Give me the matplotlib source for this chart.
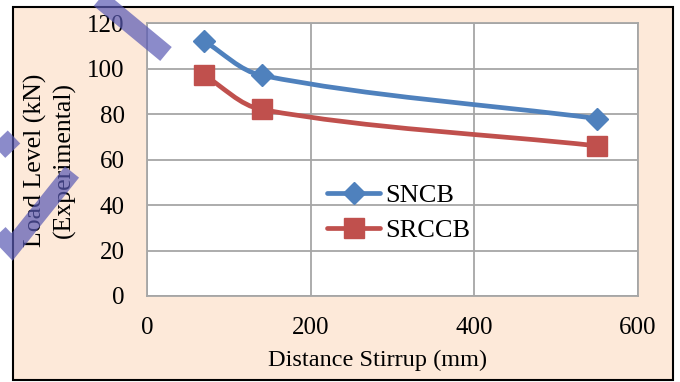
import numpy as np
import matplotlib
matplotlib.use("Agg")
import matplotlib.pyplot as plt
from matplotlib.path import Path
from matplotlib.patches import PathPatch, Rectangle
from matplotlib.lines import Line2D

plt.rcParams['font.family'] = ['Liberation Serif', 'DejaVu Serif']

# data
stirrup_mm = [70, 140, 550]
sncb_kn = [112, 97, 78]
srccb_kn = [97, 82, 66]
series_names = ['SNCB', 'SRCCB']
x_ticks = [0, 200, 400, 600]
y_ticks = [0, 20, 40, 60, 80, 100, 120]

blue = '#4F81BD'
red = '#C0504D'
grid_col = '#A6A6A6'
peach = '#FDE9D9'

W, H = 680, 382
fig = plt.figure(figsize=(W / 100, H / 100), dpi=100)
fig.patch.set_facecolor('white')

# outer chart frame
fig.patches.append(Rectangle((13 / W, 1 - 380 / H), 660 / W, 373 / H,
                             transform=fig.transFigure, facecolor=peach,
                             edgecolor='black', linewidth=1.5, zorder=-5))

ax = fig.add_axes([147 / W, 1 - 296 / H, 491 / W, 273 / H])
ax.set_zorder(2)
ax.set_facecolor('white')
ax.set_xlim(0, 600)
ax.set_ylim(0, 120)
ax.set_xticks(x_ticks)
ax.set_yticks(y_ticks)
ax.tick_params(length=0, labelsize=18)
ax.tick_params(axis='y', pad=16)
ax.tick_params(axis='x', pad=15)
ax.grid(True, color=grid_col, linewidth=1.3)
ax.set_axisbelow(True)
for s in ax.spines.values():
    s.set_color(grid_col)
    s.set_linewidth(1.3)

# pixel scale so the smoothing looks right on screen
sx = 491 / 600
sy = 273 / 120


def smooth_path(xs, ys):
    pts = np.column_stack([np.asarray(xs, float) * sx, np.asarray(ys, float) * sy])
    n = len(pts)
    verts = [pts[0]]
    codes = [Path.MOVETO]
    for i in range(n - 1):
        p0 = pts[max(i - 1, 0)]
        p1 = pts[i]
        p2 = pts[i + 1]
        p3 = pts[min(i + 2, n - 1)]
        seg = np.linalg.norm(p2 - p1) / 3
        t1 = (p2 - p0) / np.linalg.norm(p2 - p0)
        t2 = (p3 - p1) / np.linalg.norm(p3 - p1)
        verts += [p1 + t1 * seg, p2 - t2 * seg, p2]
        codes += [Path.CURVE4] * 3
    verts = np.array(verts)
    verts[:, 0] /= sx
    verts[:, 1] /= sy
    return Path(verts, codes)


lw = 3.4
for ys, col, mk, ms in [(sncb_kn, blue, 'D', 11), (srccb_kn, red, 's', 14)]:
    ax.add_patch(PathPatch(smooth_path(stirrup_mm, ys), fill=False,
                           edgecolor=col, linewidth=lw, capstyle='round', zorder=3))
    ax.plot(stirrup_mm, ys, ls='none', marker=mk, ms=ms, color=col, zorder=4, clip_on=False)

handles = [Line2D([], [], color=blue, lw=lw, marker='D', ms=11, solid_capstyle='round'),
           Line2D([], [], color=red, lw=lw, marker='s', ms=14, solid_capstyle='round')]
ax.legend(handles, series_names, loc='center left',
          bbox_to_anchor=(314 / W, 1 - 213 / H), bbox_transform=fig.transFigure,
          frameon=False, fontsize=19,
          handlelength=2.0, handletextpad=0.2, labelspacing=0.45, borderpad=0)

fig.text(378 / W, 1 - 360 / H, 'Distance Stirrup (mm)', ha='center', va='center', fontsize=17.5)
fig.text(50 / W, 1 - 160 / H, 'Load Level (kN)\n(Experimental)', ha='center', va='center',
         rotation=90, fontsize=18.5, multialignment='center', linespacing=1.3)

# translucent markup strokes over the figure
for xs_px, ys_px in [([91, 166], [-8, 54]),
                     ([-10, 14], [160, 137]),
                     ([-6, 12, 72], [228, 247, 172])]:
    xf = [x / W for x in xs_px]
    yf = [1 - y / H for y in ys_px]
    fig.add_artist(Line2D(xf, yf, transform=fig.transFigure, color='#5A5AB4',
                          alpha=0.7, linewidth=13, solid_capstyle='butt',
                          solid_joinstyle='miter', zorder=10))

fig.savefig('out.png', dpi=100)
